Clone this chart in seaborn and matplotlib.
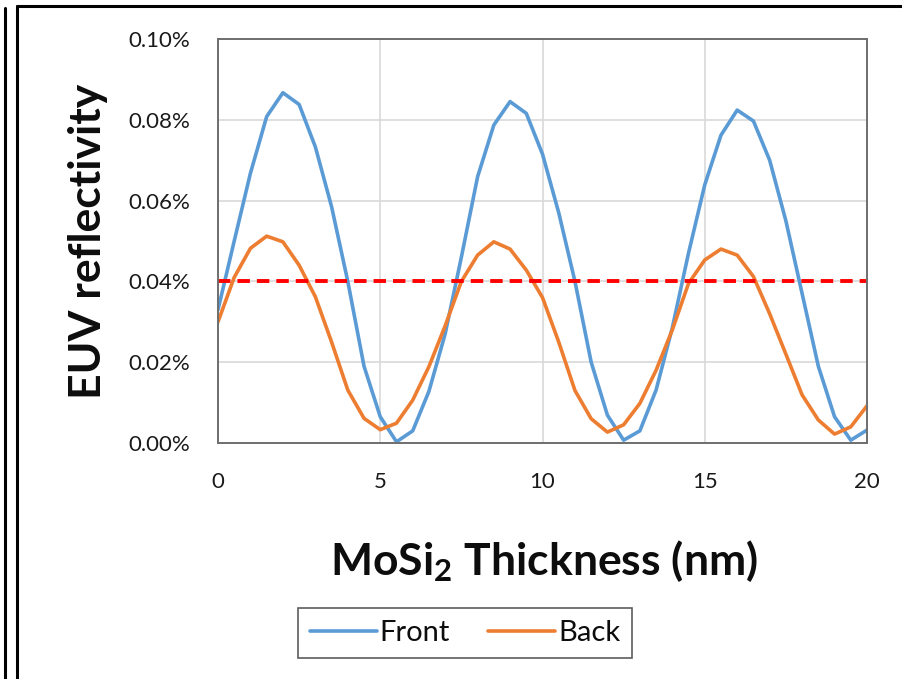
import pandas as pd
import matplotlib.pyplot as plt
import seaborn as sns
from matplotlib.lines import Line2D
from matplotlib.ticker import FuncFormatter

# MoSi2 thickness (nm) and EUV reflectivity (%)
thickness = [0.0, 0.5, 1.0, 1.5, 2.0, 2.5, 3.0, 3.5, 4.0, 4.5,
             5.0, 5.5, 6.0, 6.5, 7.0, 7.5, 8.0, 8.5, 9.0, 9.5,
             10.0, 10.5, 11.0, 11.5, 12.0, 12.5, 13.0, 13.5, 14.0, 14.5,
             15.0, 15.5, 16.0, 16.5, 17.0, 17.5, 18.0, 18.5, 19.0, 19.5, 20.0]
front = [0.0330, 0.0500, 0.0668, 0.0808, 0.0867, 0.0838, 0.0733, 0.0585, 0.0400, 0.0190,
         0.0065, 0.0003, 0.0030, 0.0128, 0.0270, 0.0460, 0.0659, 0.0787, 0.0845, 0.0816,
         0.0715, 0.0570, 0.0400, 0.0200, 0.0069, 0.0007, 0.0030, 0.0131, 0.0285, 0.0470,
         0.0639, 0.0762, 0.0824, 0.0797, 0.0700, 0.0550, 0.0370, 0.0190, 0.0065, 0.0007, 0.0032]
back = [0.0300, 0.0410, 0.0482, 0.0512, 0.0498, 0.0440, 0.0362, 0.0250, 0.0131, 0.0061,
        0.0033, 0.0049, 0.0106, 0.0189, 0.0290, 0.0400, 0.0465, 0.0498, 0.0480, 0.0428,
        0.0360, 0.0250, 0.0130, 0.0060, 0.0027, 0.0045, 0.0098, 0.0180, 0.0280, 0.0395,
        0.0453, 0.0480, 0.0465, 0.0412, 0.0320, 0.0220, 0.0119, 0.0057, 0.0022, 0.0040, 0.0092]
threshold = 0.04
series_names = ['Front', 'Back']
x_ticks = [0, 5, 10, 15, 20]
y_ticks = [0.00, 0.02, 0.04, 0.06, 0.08, 0.10]

df = pd.DataFrame({
    'Thickness': thickness * 2,
    'Reflectivity': front + back,
    'Side': ['Front'] * len(front) + ['Back'] * len(back),
})

sns.set_style('white')
plt.rcParams['font.family'] = ['Lato', 'DejaVu Sans']
plt.rcParams['mathtext.default'] = 'regular'

fig = plt.figure(figsize=(9.02, 6.79), dpi=100)
ax = fig.add_axes([218 / 902, 1 - 443 / 679, 649 / 902, 404 / 679])

palette = {'Front': '#5B9BD5', 'Back': '#ED7D31'}
sns.lineplot(data=df, x='Thickness', y='Reflectivity', hue='Side', hue_order=series_names,
             palette=palette, linewidth=2.6, ax=ax, legend=False)
ax.axhline(threshold, color='#FF0000', linewidth=2.8, linestyle=(0, (3.2, 1.8)))

ax.set_xlim(0, 20)
ax.set_ylim(0, 0.10)
ax.set_xticks(x_ticks)
ax.set_yticks(y_ticks)
ax.yaxis.set_major_formatter(FuncFormatter(lambda v, p: f'{v:.2f}%'))
ax.grid(True, color='#D9D9D9', linewidth=1.2)
ax.tick_params(axis='both', length=0, labelsize=16, colors='#1a1a1a')
ax.tick_params(axis='y', pad=20)
ax.tick_params(axis='x', pad=21)
for s in ax.spines.values():
    s.set_color('#6E6E6E')
    s.set_linewidth(1.4)
ax.set_xlabel('')
ax.set_ylabel('')

# axis titles
fig.text(88 / 902, 1 - 241 / 679, 'EUV reflectivity', rotation=90, ha='center', va='center',
         fontsize=32, fontweight='bold', color='#0d0d0d')
fig.text(544 / 902, 1 - 561 / 679, 'MoSi$_2$ Thickness (nm)', ha='center', va='center',
         fontsize=32, fontweight='bold', color='#0d0d0d')

# legend
handles = [Line2D([], [], color=palette[n], linewidth=2.6) for n in series_names]
leg = fig.legend(handles, series_names, loc='center', bbox_to_anchor=(465 / 902, 1 - 633 / 679),
                 ncol=2, fontsize=21, frameon=True, fancybox=False, handlelength=2.3,
                 handletextpad=0.1, columnspacing=1.3, borderpad=0.4)
leg.get_frame().set_edgecolor('#333333')
leg.get_frame().set_linewidth(1.2)
for t in leg.get_texts():
    t.set_color('#0d0d0d')

# outer frame lines of the original figure panel
fig.add_artist(Line2D([5 / 902, 5 / 902], [0, 1 - 8 / 679], color='black', linewidth=2.2,
                      transform=fig.transFigure))
fig.add_artist(Line2D([17 / 902, 17 / 902], [0, 1 - 6 / 679], color='black', linewidth=2.2,
                      transform=fig.transFigure))
fig.add_artist(Line2D([17 / 902, 1], [1 - 6 / 679, 1 - 6 / 679], color='black', linewidth=2.2,
                      transform=fig.transFigure))

fig.savefig('out.png', dpi=100)
